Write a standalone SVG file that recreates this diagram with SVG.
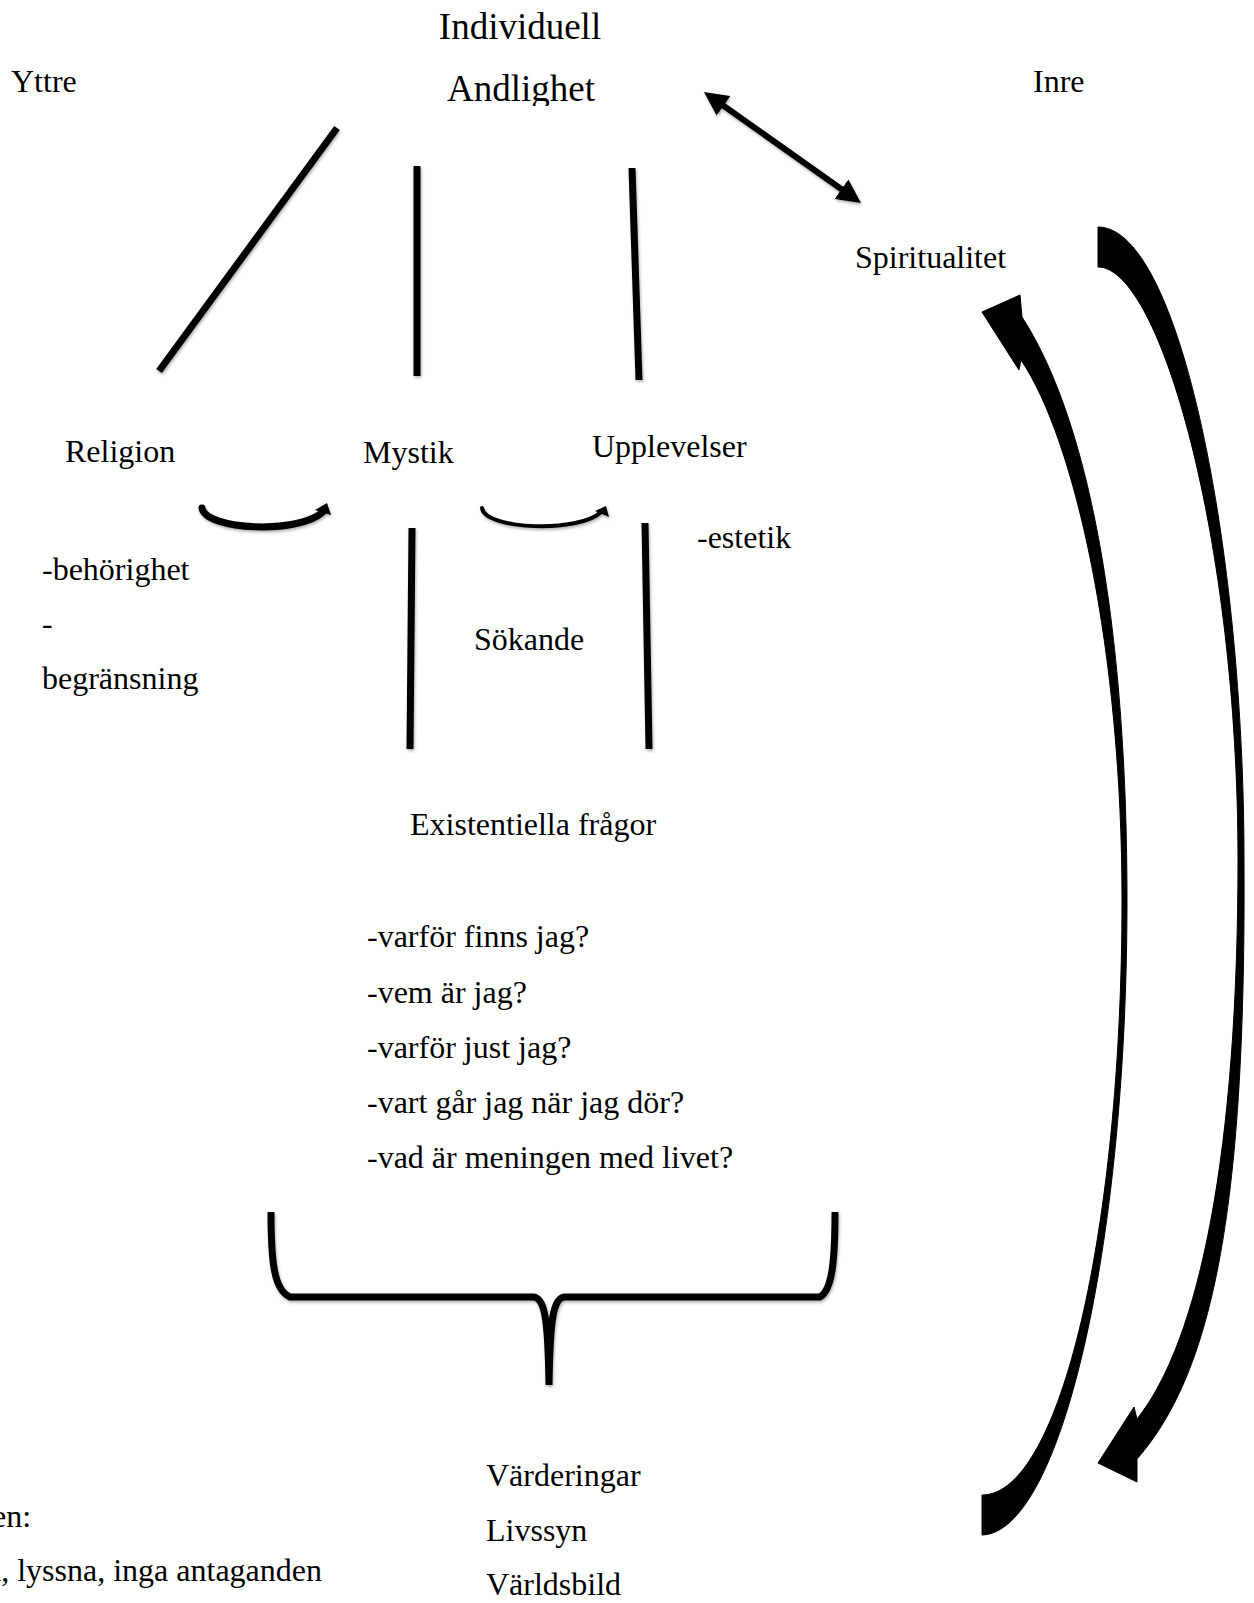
<svg xmlns="http://www.w3.org/2000/svg" width="1254" height="1603" viewBox="0 0 1254 1603">
  <style>
    .t { font-family: "Liberation Serif", "Times New Roman", serif; font-size: 32px; fill: #000; }
    .title { font-size: 37px; }
    .ln { stroke: #000; stroke-width: 7; fill: none; stroke-linecap: butt; }
    .arc { stroke: #000; fill: none; stroke-linecap: round; }
    .big { fill: #000; stroke: #000; stroke-width: 1; stroke-linejoin: round; }
  </style>
  <defs>
    <filter id="sh" x="-20%" y="-20%" width="140%" height="140%">
      <feDropShadow dx="1" dy="2" stdDeviation="1.5" flood-color="#000" flood-opacity="0.3"/>
    </filter>
    <marker id="ah" viewBox="0 0 24 24" markerWidth="24" markerHeight="24" refX="4" refY="12" markerUnits="userSpaceOnUse" orient="auto-start-reverse">
      <path d="M0,0 L24,12 L0,24 z" fill="#000"/>
    </marker>
    <clipPath id="clipA">
      <rect x="0" y="0" width="1254" height="106"/>
    </clipPath>
  </defs>
  <rect width="1254" height="1603" fill="#fff"/>

  <g id="connectors">
    <g filter="url(#sh)">
      <line class="ln" x1="337" y1="128" x2="159" y2="371"/>
      <line class="ln" x1="417" y1="166" x2="417" y2="376"/>
      <line class="ln" x1="632" y1="168" x2="639" y2="380"/>
      <line class="ln" x1="412" y1="528" x2="410" y2="749"/>
      <line class="ln" x1="645" y1="523" x2="649" y2="749"/>
      <line stroke="#000" stroke-width="6" x1="720.3" y1="103.5" x2="844.7" y2="191.5" marker-start="url(#ah)" marker-end="url(#ah)"/>
      <path class="arc" stroke-width="7" d="M 202,508 C 205,530 300,535 324,511"/>
      <polygon points="315,510 327,503 331,515" fill="#000"/>
      <path class="arc" stroke-width="4" d="M 482,508 C 485,530 580,533 601,512"/>
      <polygon points="595,511 606,506 609,517" fill="#000"/>
      <path class="ln" d="M 271,1212 C 271,1262 274,1290 290,1297 L 533,1297 C 545,1297 548,1320 549,1385 C 550,1320 553,1297 565,1297 L 820,1297 C 832,1290 835,1262 835,1212"/>
    </g>
    <path class="big" d="M 982,1535 C 1060,1533 1127,1250 1127,900 C 1127,650 1095,430 1022,317 L 1020,295 L 982,312 L 1019,370 L 1021,360 C 1075,440 1122,650 1122,900 C 1122,1230 1060,1495 982,1495 Z"/>
    <path class="big" d="M 1098,227 C 1180,227 1244,550 1244,860 C 1246,1200 1215,1370 1137,1459 L 1137,1482 L 1098,1463 L 1134,1407 L 1137,1419 C 1200,1340 1238,1150 1238,860 C 1238,540 1160,267 1098,267 Z"/>
  </g>

  <g id="node-individuell-andlighet">
    <text class="t title" x="520" y="39" text-anchor="middle">Individuell</text>
    <text class="t title" x="521" y="101" text-anchor="middle" clip-path="url(#clipA)">Andlighet</text>
  </g>
  <g id="node-yttre"><text class="t" x="11" y="92">Yttre</text></g>
  <g id="node-inre"><text class="t" x="1033" y="92">Inre</text></g>
  <g id="node-spiritualitet"><text class="t" x="855" y="268">Spiritualitet</text></g>
  <g id="node-religion"><text class="t" x="65" y="462">Religion</text></g>
  <g id="node-mystik"><text class="t" x="363" y="463">Mystik</text></g>
  <g id="node-upplevelser"><text class="t" x="592" y="457">Upplevelser</text></g>
  <g id="node-estetik"><text class="t" x="697" y="548">-estetik</text></g>
  <g id="node-religion-notes">
    <text class="t" x="42" y="580">-behörighet</text>
    <text class="t" x="42" y="634">-</text>
    <text class="t" x="42" y="689">begränsning</text>
  </g>
  <g id="node-sokande"><text class="t" x="474" y="650">Sökande</text></g>
  <g id="node-existentiella"><text class="t" x="410" y="835">Existentiella frågor</text></g>
  <g id="node-fragor">
    <text class="t" x="367" y="947">-varför finns jag?</text>
    <text class="t" x="367" y="1003">-vem är jag?</text>
    <text class="t" x="367" y="1058">-varför just jag?</text>
    <text class="t" x="367" y="1113">-vart går jag när jag dör?</text>
    <text class="t" x="367" y="1168">-vad är meningen med livet?</text>
  </g>
  <g id="node-varderingar">
    <text class="t" x="486" y="1486">Värderingar</text>
    <text class="t" x="486" y="1541">Livssyn</text>
    <text class="t" x="486" y="1595">Världsbild</text>
  </g>
  <g id="node-bottom-left">
    <text class="t" x="-8" y="1527">en:</text>
    <text class="t" x="-13" y="1581">a, lyssna, inga antaganden</text>
  </g>
</svg>
